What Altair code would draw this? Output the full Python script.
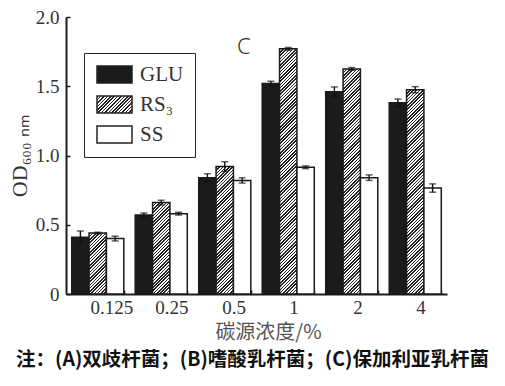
import math
import json
import altair as alt
import pandas as pd

# ---------------- data ----------------
concentrations = ["0.125", "0.25", "0.5", "1", "2", "4"]
series_names = ["GLU", "RS₃", "SS"]

glu_mean = [0.41, 0.57, 0.84, 1.52, 1.46, 1.38]
glu_err = [0.045, 0.015, 0.028, 0.016, 0.035, 0.028]
rs3_mean = [0.44, 0.66, 0.92, 1.77, 1.625, 1.475]
rs3_err = [0.006, 0.017, 0.035, 0.010, 0.010, 0.022]
ss_mean = [0.40, 0.58, 0.82, 0.915, 0.84, 0.765]
ss_err = [0.017, 0.010, 0.019, 0.010, 0.020, 0.030]

y_ticks = [0, 0.5, 1.0, 1.5, 2.0]
y_max = 2.0
panel_letter = "C"
panel_letter_y = 1.787
x_title = "碳源浓度/%"
y_title = "OD₆₀₀ ₙₘ"
caption = "注：(A)双歧杆菌；(B)嗜酸乳杆菌；(C)保加利亚乳杆菌"

rows = []
for name, means, errs in [("GLU", glu_mean, glu_err), ("RS₃", rs3_mean, rs3_err), ("SS", ss_mean, ss_err)]:
    for c, m, e in zip(concentrations, means, errs):
        rows.append({"conc": c, "series": name, "value": m, "lo": m - e, "hi": m + e})
df = pd.DataFrame(rows)

# ---------------- geometry / style ----------------
W, H = 381, 277
PAD_IN, PAD_OUT = 0.18, 0.09
step = W / (len(concentrations) - PAD_IN + 2 * PAD_OUT)
bar_w = step * (1 - PAD_IN) / len(series_names)

INK = "#1c1c1c"
SERIF = "Liberation Serif"
CJK = "Noto Sans CJK SC"

# x tick labels sit a little right of the group centres in the original (pixels)
label_shift = {"0.125": 14, "0.25": 10.5, "0.5": 9.3, "1": 5.8, "2": 6.3, "4": 5.8}
shift_expr = ""
for lab, s in label_shift.items():
    shift_expr += f"datum.value === '{lab}' ? {s} : "
shift_expr += "8"


def hatch(w, h, period=2.3, dark=0.47, ink="#202020", paper="#ffffff"):
    """Linear gradient giving 45° '/' stripes inside a w x h box."""
    d = w * w + h * h
    x2 = w * (w + h) / d
    y2 = h * (w + h) / d
    n = (w + h) / (period * math.sqrt(2))
    stops = []
    k = 0
    while k < n:
        a = k / n
        b = min((k + dark) / n, 1.0)
        c = min((k + 1) / n, 1.0)
        stops += [
            {"offset": round(a, 5), "color": ink},
            {"offset": round(b, 5), "color": ink},
            {"offset": round(b, 5), "color": paper},
            {"offset": round(c, 5), "color": paper},
        ]
        k += 1
    return {"gradient": "linear", "x1": 0, "y1": 0, "x2": x2, "y2": y2, "stops": stops}


# per-bar hatch so the stripes keep the same angle and spacing on every bar
conds = []
for c, v in zip(concentrations, rs3_mean):
    conds.append({
        "test": f"datum.conc === '{c}' && datum.series === '{series_names[1]}'",
        "value": hatch(bar_w, v / y_max * H),
    })

# legend symbol: 35 x 17 px rectangle
LEG_SIZE = 289  # sqrt -> 17 px
legend_path = "M-1,-1H3.118V1H-1Z"
legend_hatch_expr = json.dumps(hatch(35, 17, period=2.4))

x_scale = alt.Scale(domain=concentrations, paddingInner=PAD_IN, paddingOuter=PAD_OUT)
y_scale = alt.Scale(domain=[0, y_max], nice=False)
off_scale = alt.Scale(domain=series_names, paddingInner=0, paddingOuter=0)

bottom_axis = alt.Axis(
    orient="bottom", labelAngle=0, ticks=False, domain=True, domainColor=INK,
    domainWidth=2, grid=False, labelFont=SERIF, labelFontSize=19, labelColor="#333",
    labelPadding=4, labelOffset={"expr": shift_expr},
    title=x_title, titleFont=CJK, titleFontSize=20,
    titleFontWeight="normal", titleColor="#555", titlePadding=5, titleX=202,
)
left_axis = alt.Axis(
    orient="left", values=y_ticks,
    labelExpr="datum.value === 0 ? '0' : format(datum.value, '.1f')",
    ticks=False, domain=True, domainColor=INK, domainWidth=2, grid=False,
    labelFont=SERIF, labelFontSize=19, labelColor="#333", labelPadding=7,
    title=y_title, titleFont=SERIF, titleFontSize=22, titleFontWeight="normal",
    titleColor="#333", titlePadding=4,
)
top_tick_axis = alt.Axis(
    orient="top", offset=-H, labels=False, domain=False, ticks=True, tickBand="extent",
    tickSize=4, tickWidth=1.5, tickColor=INK, grid=False, title=None,
)
right_tick_axis = alt.Axis(
    orient="right", offset=-W, values=y_ticks, labels=False, domain=False, ticks=True,
    tickSize=4, tickWidth=1.5, tickColor=INK, grid=False, title=None,
)

fill_enc = alt.Fill(
    "series:N",
    sort=series_names,
    scale=alt.Scale(domain=series_names,
                    range=["#1b1b1b", {"expr": legend_hatch_expr}, "#ffffff"]),
    legend=alt.Legend(
        title=None, orient="none", legendX=18, legendY=36,
        strokeColor="#222", fillColor="#ffffff", padding=11,
        labelFont=SERIF, labelFontSize=21, labelColor="#333", labelOffset=24,
        symbolType=legend_path, symbolSize=LEG_SIZE, symbolStrokeColor="#222",
        symbolStrokeWidth=1.5, symbolOpacity=1, rowPadding=7,
    ),
    condition=conds,
)

bars = alt.Chart().mark_bar(stroke="#1a1a1a", strokeWidth=1.5).encode(
    x=alt.X("conc:N", sort=concentrations, scale=x_scale, axis=bottom_axis),
    xOffset=alt.XOffset("series:N", sort=series_names, scale=off_scale),
    y=alt.Y("value:Q", scale=y_scale, axis=left_axis),
    fill=fill_enc,
)

rules = alt.Chart().mark_rule(color="#111", strokeWidth=1.4).encode(
    x=alt.X("conc:N", sort=concentrations, scale=x_scale, axis=top_tick_axis),
    xOffset=alt.XOffset("series:N", sort=series_names, scale=off_scale),
    y=alt.Y("lo:Q", scale=y_scale, axis=right_tick_axis),
    y2="hi:Q",
)

caps_hi = alt.Chart().mark_tick(color="#111", thickness=1.4, size=7, orient="horizontal").encode(
    x=alt.X("conc:N", sort=concentrations, scale=x_scale, axis=None),
    xOffset=alt.XOffset("series:N", sort=series_names, scale=off_scale),
    y=alt.Y("hi:Q", scale=y_scale, axis=None),
)
caps_lo = alt.Chart().mark_tick(color="#111", thickness=1.4, size=7, orient="horizontal").encode(
    x=alt.X("conc:N", sort=concentrations, scale=x_scale, axis=None),
    xOffset=alt.XOffset("series:N", sort=series_names, scale=off_scale),
    y=alt.Y("lo:Q", scale=y_scale, axis=None),
)

letter = alt.Chart(pd.DataFrame({"t": [panel_letter]})).mark_text(
    font="Noto Sans", fontSize=22, fontWeight=300, color="#333",
    align="center", baseline="middle", dx=19,
).encode(
    x=alt.XDatum(concentrations[2], type="nominal", scale=x_scale, axis=None),
    y=alt.YDatum(panel_letter_y, type="quantitative", scale=y_scale, axis=None),
    text="t:N",
)

chart = alt.layer(bars, rules, caps_hi, caps_lo, letter, data=df).properties(
    width=W,
    height=H,
    title=alt.TitleParams(
        caption, orient="bottom", anchor="middle", frame="group", font=CJK,
        fontSize=19.5, fontWeight="bold", color="#111", offset=9, dx=-4,
    ),
    autosize=alt.AutoSizeParams(type="none"),
    padding={"left": 58, "top": 9, "right": 50, "bottom": 80},
).configure_view(stroke=None)

chart.save("out.html", embed_options={"renderer": "svg", "actions": False})
